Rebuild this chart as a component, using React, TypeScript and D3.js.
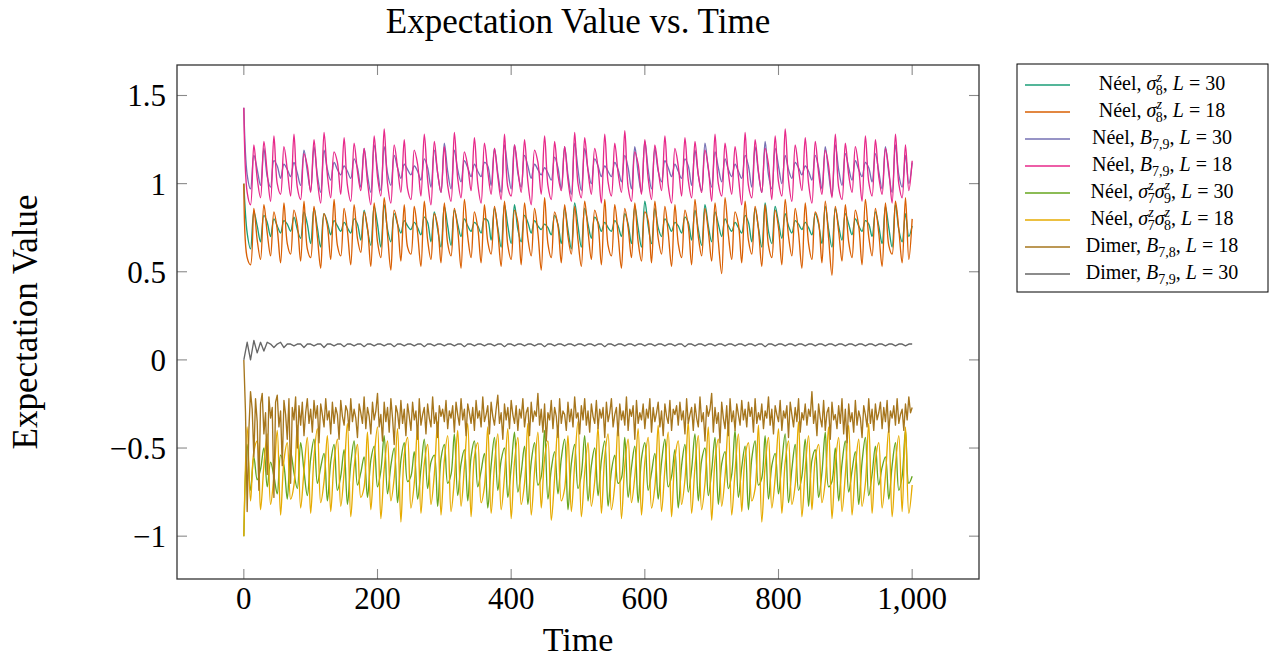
import React from "react";
import * as d3 from "d3";

// Time axis (sampled every 5 time units, 0..1000)
const TIMES: number[] = d3.range(0, 1001, 5);
// Finer time axis for the noisy dimer B_{7,8} series (every 2.5 time units)
const TIMES_FINE: number[] = d3.range(0, 1000.1, 2.5);

const X_TICKS = [0, 200, 400, 600, 800, 1000];
const X_TICK_LABELS = ["0", "200", "400", "600", "800", "1,000"];
const Y_TICKS = [-1, -0.5, 0, 0.5, 1, 1.5];
const Y_TICK_LABELS = ["\u22121", "\u22120.5", "0", "0.5", "1", "1.5"];

// Néel, sigma_8^z, L = 30
const neelSz8L30 = [
  1.00,0.72,0.63,0.84,0.76,0.67,0.82,0.78,0.70,0.80,0.76,0.72,0.79,0.77,0.73,0.81,0.74,0.69,0.84,0.77,
  0.66,0.86,0.75,0.64,0.83,0.78,0.71,0.79,0.76,0.73,0.78,0.75,0.72,0.80,0.77,0.68,0.85,0.74,0.65,0.87,
  0.77,0.64,0.88,0.74,0.67,0.83,0.77,0.72,0.79,0.76,0.74,0.78,0.75,0.71,0.81,0.78,0.67,0.84,0.74,0.64,
  0.87,0.76,0.65,0.85,0.77,0.70,0.80,0.76,0.73,0.78,0.76,0.72,0.80,0.79,0.68,0.86,0.75,0.64,0.88,0.76,
  0.66,0.88,0.74,0.67,0.82,0.78,0.72,0.79,0.76,0.74,0.77,0.75,0.71,0.82,0.77,0.66,0.86,0.74,0.63,0.89,
  0.76,0.64,0.86,0.77,0.69,0.81,0.78,0.73,0.78,0.75,0.73,0.79,0.76,0.70,0.83,0.77,0.66,0.87,0.75,0.64,
  0.90,0.76,0.66,0.86,0.75,0.70,0.80,0.77,0.73,0.78,0.76,0.72,0.81,0.78,0.68,0.85,0.74,0.65,0.88,0.76,
  0.67,0.84,0.77,0.70,0.80,0.76,0.73,0.78,0.75,0.72,0.82,0.78,0.67,0.86,0.75,0.64,0.89,0.73,0.66,0.87,
  0.78,0.69,0.83,0.76,0.72,0.79,0.77,0.74,0.78,0.75,0.71,0.83,0.77,0.66,0.87,0.74,0.64,0.86,0.76,0.68,
  0.83,0.77,0.71,0.80,0.76,0.73,0.79,0.77,0.70,0.84,0.76,0.66,0.87,0.75,0.64,0.88,0.74,0.67,0.83,0.70,
  0.76,
];

// Néel, sigma_8^z, L = 18
const neelSz8L18 = [
  1.00,0.58,0.54,0.86,0.68,0.57,0.88,0.72,0.59,0.84,0.74,0.55,0.89,0.66,0.60,0.85,0.77,0.56,0.90,0.63,
  0.58,0.87,0.70,0.52,0.83,0.76,0.57,0.91,0.65,0.59,0.86,0.73,0.54,0.88,0.69,0.61,0.84,0.75,0.53,0.89,
  0.67,0.58,0.92,0.71,0.51,0.85,0.77,0.56,0.88,0.64,0.60,0.87,0.72,0.53,0.90,0.68,0.57,0.83,0.76,0.55,
  0.89,0.66,0.59,0.86,0.74,0.52,0.91,0.70,0.58,0.84,0.75,0.55,0.88,0.67,0.60,0.87,0.73,0.53,0.90,0.65,
  0.57,0.85,0.78,0.54,0.89,0.69,0.59,0.86,0.72,0.51,0.92,0.66,0.58,0.84,0.76,0.55,0.88,0.70,0.60,0.87,
  0.68,0.53,0.90,0.73,0.57,0.85,0.77,0.54,0.91,0.65,0.59,0.88,0.71,0.52,0.86,0.75,0.58,0.89,0.67,0.56,
  0.84,0.79,0.55,0.90,0.69,0.60,0.87,0.72,0.53,0.88,0.66,0.58,0.85,0.76,0.54,0.91,0.70,0.59,0.86,0.73,
  0.56,0.89,0.67,0.49,0.92,0.71,0.57,0.84,0.77,0.55,0.90,0.68,0.60,0.87,0.74,0.53,0.88,0.65,0.58,0.85,
  0.75,0.54,0.91,0.70,0.59,0.86,0.72,0.52,0.89,0.66,0.57,0.84,0.78,0.55,0.90,0.69,0.48,0.87,0.73,0.56,
  0.88,0.67,0.58,0.85,0.76,0.54,0.91,0.70,0.59,0.86,0.72,0.53,0.89,0.65,0.60,0.90,0.74,0.55,0.92,0.57,
  0.80,
];

// Néel, B_{7,9}, L = 30
const neelB79L30 = [
  1.43,1.05,0.97,1.16,1.08,0.99,1.20,1.04,0.98,1.13,1.10,1.03,1.11,1.08,1.04,1.12,1.06,0.99,1.19,1.07,
  0.96,1.21,1.05,0.95,1.19,1.08,1.02,1.12,1.08,1.05,1.10,1.07,1.03,1.14,1.09,0.98,1.20,1.05,0.95,1.22,
  1.08,0.96,1.21,1.06,0.99,1.16,1.09,1.03,1.11,1.08,1.05,1.10,1.07,1.02,1.14,1.09,0.98,1.19,1.06,0.95,
  1.23,1.07,0.97,1.19,1.08,1.01,1.13,1.09,1.04,1.11,1.07,1.04,1.12,1.10,0.99,1.20,1.06,0.95,1.22,1.08,
  0.97,1.22,1.06,0.98,1.16,1.10,1.03,1.11,1.08,1.05,1.09,1.06,1.02,1.15,1.09,0.97,1.21,1.05,0.94,1.23,
  1.08,0.96,1.20,1.08,1.00,1.14,1.10,1.04,1.10,1.07,1.04,1.12,1.08,1.01,1.16,1.09,0.97,1.21,1.06,0.95,
  1.24,1.08,0.97,1.20,1.07,1.01,1.13,1.09,1.04,1.11,1.07,1.03,1.14,1.10,0.99,1.19,1.05,0.96,1.23,1.08,
  0.98,1.18,1.09,1.01,1.14,1.08,1.04,1.11,1.07,1.03,1.16,1.10,0.98,1.21,1.06,0.95,1.24,1.05,0.97,1.20,
  1.10,1.00,1.16,1.08,1.03,1.12,1.09,1.05,1.10,1.07,1.02,1.16,1.09,0.97,1.21,1.06,0.93,1.22,1.08,0.99,
  1.17,1.09,1.02,1.13,1.08,1.04,1.12,1.09,1.01,1.17,1.07,0.97,1.21,1.06,0.95,1.22,1.05,0.98,1.16,1.00,
  1.12,
];

// Néel, B_{7,9}, L = 18
const neelB79L18 = [
  1.43,0.95,0.88,1.22,1.03,0.92,1.24,1.06,0.90,1.27,1.00,0.94,1.21,1.08,0.93,1.28,0.98,0.91,1.17,1.10,
  0.95,1.25,1.02,0.89,1.29,1.05,0.92,1.18,1.12,0.94,1.26,0.99,0.90,1.23,1.07,0.96,1.20,1.01,0.88,1.27,
  1.04,0.93,1.31,1.00,0.89,1.22,1.09,0.95,1.25,0.97,0.91,1.19,1.11,0.93,1.28,1.02,0.88,1.24,1.06,0.95,
  1.21,0.99,0.90,1.29,1.03,0.92,1.18,1.10,0.96,1.26,1.00,0.89,1.23,1.07,0.94,1.20,1.04,0.91,1.28,0.98,
  0.93,1.22,1.08,0.95,1.25,1.01,0.88,1.19,1.12,0.94,1.27,0.99,0.91,1.24,1.05,0.96,1.21,1.02,0.90,1.29,
  1.00,0.92,1.26,1.07,0.94,1.20,1.09,0.89,1.28,1.01,0.93,1.23,1.06,0.95,1.30,0.98,0.90,1.18,1.11,0.94,
  1.25,1.03,0.91,1.22,1.08,0.96,1.27,0.99,0.89,1.20,1.10,0.93,1.26,1.02,0.92,1.24,1.05,0.95,1.19,1.09,
  0.90,1.28,1.00,0.93,1.23,1.06,0.94,1.21,1.04,0.88,1.29,0.99,0.92,1.25,1.07,0.95,1.20,1.11,0.91,1.27,
  1.01,0.93,1.31,1.02,0.90,1.22,1.08,0.96,1.26,1.00,0.89,1.24,1.06,0.94,1.19,1.10,0.92,1.28,0.98,0.91,
  1.23,1.05,0.95,1.21,1.09,0.90,1.27,1.01,0.93,1.25,1.04,0.94,1.20,1.08,0.89,1.28,1.00,0.92,1.22,0.96,
  1.13,
];

// Néel, sigma_7^z sigma_9^z, L = 30
const neelSz7Sz9L30 = [
  -1.00,-0.48,-0.74,-0.55,-0.68,-0.62,-0.50,-0.72,-0.58,-0.66,-0.76,-0.54,-0.60,-0.79,-0.52,-0.64,-0.73,-0.47,-0.63,-0.77,
  -0.56,-0.45,-0.70,-0.61,-0.53,-0.80,-0.58,-0.48,-0.74,-0.66,-0.51,-0.82,-0.59,-0.46,-0.71,-0.64,-0.55,-0.78,-0.57,-0.49,
  -0.72,-0.63,-0.43,-0.76,-0.60,-0.50,-0.81,-0.57,-0.47,-0.69,-0.66,-0.52,-0.79,-0.62,-0.45,-0.73,-0.58,-0.54,-0.83,-0.56,
  -0.48,-0.70,-0.65,-0.42,-0.77,-0.59,-0.51,-0.80,-0.55,-0.46,-0.72,-0.63,-0.53,-0.84,-0.60,-0.44,-0.74,-0.57,-0.50,-0.78,
  -0.61,-0.41,-0.75,-0.64,-0.49,-0.82,-0.58,-0.47,-0.71,-0.66,-0.40,-0.79,-0.62,-0.52,-0.76,-0.56,-0.45,-0.85,-0.59,-0.48,
  -0.73,-0.65,-0.43,-0.80,-0.60,-0.50,-0.77,-0.57,-0.46,-0.83,-0.63,-0.54,-0.70,-0.67,-0.44,-0.78,-0.61,-0.49,-0.81,-0.56,
  -0.47,-0.74,-0.64,-0.53,-0.79,-0.58,-0.45,-0.72,-0.66,-0.51,-0.84,-0.60,-0.48,-0.75,-0.62,-0.42,-0.80,-0.57,-0.50,-0.77,
  -0.63,-0.44,-0.82,-0.59,-0.52,-0.73,-0.65,-0.40,-0.78,-0.61,-0.49,-0.85,-0.56,-0.46,-0.71,-0.67,-0.43,-0.79,-0.60,-0.53,
  -0.76,-0.58,-0.42,-0.81,-0.62,-0.48,-0.74,-0.66,-0.45,-0.83,-0.57,-0.51,-0.78,-0.64,-0.41,-0.72,-0.69,-0.50,-0.80,-0.59,
  -0.46,-0.75,-0.63,-0.52,-0.82,-0.58,-0.44,-0.77,-0.65,-0.49,-0.71,-0.61,-0.55,-0.79,-0.60,-0.47,-0.74,-0.66,-0.40,-0.70,
  -0.66,
];

// Néel, sigma_7^z sigma_8^z, L = 18
const neelSz7Sz8L18 = [
  -1.00,-0.38,-0.80,-0.52,-0.46,-0.85,-0.60,-0.42,-0.82,-0.66,-0.40,-0.88,-0.57,-0.47,-0.79,-0.71,-0.37,-0.84,-0.63,-0.44,
  -0.87,-0.55,-0.39,-0.81,-0.69,-0.43,-0.86,-0.58,-0.45,-0.83,-0.64,-0.36,-0.89,-0.61,-0.48,-0.78,-0.72,-0.41,-0.85,-0.56,
  -0.38,-0.90,-0.62,-0.46,-0.80,-0.67,-0.39,-0.92,-0.54,-0.44,-0.84,-0.70,-0.37,-0.87,-0.59,-0.48,-0.82,-0.65,-0.35,-0.88,
  -0.57,-0.43,-0.86,-0.68,-0.40,-0.83,-0.61,-0.36,-0.89,-0.55,-0.47,-0.81,-0.72,-0.38,-0.87,-0.60,-0.42,-0.85,-0.66,-0.39,
  -0.90,-0.58,-0.44,-0.82,-0.70,-0.36,-0.88,-0.63,-0.41,-0.84,-0.56,-0.46,-0.91,-0.67,-0.37,-0.80,-0.73,-0.43,-0.86,-0.59,
  -0.35,-0.89,-0.64,-0.47,-0.83,-0.69,-0.38,-0.87,-0.55,-0.42,-0.85,-0.71,-0.36,-0.90,-0.60,-0.45,-0.81,-0.66,-0.39,-0.88,
  -0.58,-0.44,-0.84,-0.72,-0.37,-0.86,-0.62,-0.41,-0.89,-0.56,-0.46,-0.82,-0.68,-0.35,-0.87,-0.61,-0.43,-0.85,-0.70,-0.38,
  -0.91,-0.57,-0.45,-0.83,-0.66,-0.36,-0.88,-0.63,-0.42,-0.86,-0.55,-0.47,-0.80,-0.73,-0.37,-0.92,-0.60,-0.44,-0.84,-0.67,
  -0.39,-0.87,-0.58,-0.46,-0.82,-0.71,-0.35,-0.89,-0.62,-0.43,-0.85,-0.56,-0.48,-0.81,-0.69,-0.38,-0.90,-0.59,-0.44,-0.86,
  -0.65,-0.37,-0.88,-0.61,-0.45,-0.83,-0.70,-0.36,-0.87,-0.57,-0.47,-0.84,-0.66,-0.39,-0.89,-0.60,-0.43,-0.86,-0.38,-0.87,
  -0.71,
];

// Dimer, B_{7,8}, L = 18 (every 2.5 time units)
const dimerB78L18 = [
  0.00,-0.30,-0.86,-0.40,-0.18,-0.28,-0.55,-0.22,-0.35,-0.74,-0.25,-0.19,-0.42,-0.30,-0.65,-0.21,-0.33,-0.27,-0.78,-0.24,
  -0.20,-0.38,-0.29,-0.60,-0.23,-0.31,-0.45,-0.22,-0.70,-0.27,-0.34,-0.21,-0.50,-0.26,-0.37,-0.24,-0.43,-0.30,-0.22,-0.36,
  -0.28,-0.41,-0.23,-0.33,-0.26,-0.47,-0.25,-0.31,-0.38,-0.22,-0.34,-0.29,-0.42,-0.24,-0.36,-0.27,-0.31,-0.45,-0.23,-0.32,
  -0.37,-0.26,-0.29,-0.40,-0.22,-0.35,-0.28,-0.33,-0.44,-0.25,-0.30,-0.36,-0.21,-0.39,-0.27,-0.32,-0.42,-0.24,-0.34,-0.29,
  -0.19,-0.38,-0.31,-0.46,-0.24,-0.35,-0.27,-0.41,-0.22,-0.33,-0.48,-0.26,-0.30,-0.39,-0.23,-0.36,-0.28,-0.43,-0.25,-0.32,
  -0.40,-0.24,-0.34,-0.29,-0.45,-0.22,-0.37,-0.31,-0.27,-0.42,-0.25,-0.33,-0.38,-0.21,-0.36,-0.30,-0.44,-0.26,-0.32,-0.28,
  -0.35,-0.23,-0.39,-0.29,-0.33,-0.26,-0.41,-0.24,-0.31,-0.37,-0.22,-0.34,-0.28,-0.43,-0.25,-0.30,-0.36,-0.27,-0.40,-0.23,
  -0.33,-0.29,-0.38,-0.21,-0.35,-0.31,-0.26,-0.42,-0.24,-0.32,-0.37,-0.28,-0.20,-0.36,-0.30,-0.45,-0.25,-0.34,-0.27,-0.39,
  -0.23,-0.31,-0.36,-0.26,-0.40,-0.28,-0.33,-0.22,-0.38,-0.30,-0.27,-0.43,-0.24,-0.35,-0.29,-0.32,-0.19,-0.37,-0.28,-0.41,
  -0.25,-0.46,-0.30,-0.34,-0.23,-0.39,-0.27,-0.32,-0.44,-0.22,-0.36,-0.29,-0.31,-0.40,-0.24,-0.35,-0.28,-0.38,-0.21,-0.33,
  -0.30,-0.42,-0.26,-0.34,-0.22,-0.37,-0.29,-0.41,-0.25,-0.32,-0.36,-0.23,-0.39,-0.28,-0.33,-0.27,-0.44,-0.24,-0.35,-0.30,
  -0.22,-0.38,-0.31,-0.27,-0.43,-0.25,-0.34,-0.29,-0.37,-0.21,-0.40,-0.28,-0.32,-0.26,-0.45,-0.23,-0.36,-0.30,-0.34,-0.25,
  -0.39,-0.28,-0.33,-0.22,-0.41,-0.27,-0.35,-0.30,-0.24,-0.38,-0.29,-0.43,-0.25,-0.32,-0.36,-0.23,-0.40,-0.28,-0.31,-0.26,
  -0.37,-0.24,-0.34,-0.29,-0.42,-0.22,-0.36,-0.31,-0.27,-0.40,-0.25,-0.33,-0.38,-0.21,-0.35,-0.30,-0.46,-0.26,-0.32,-0.28,
  -0.19,-0.41,-0.27,-0.36,-0.30,-0.47,-0.24,-0.33,-0.39,-0.26,-0.43,-0.22,-0.35,-0.29,-0.40,-0.25,-0.31,-0.37,-0.23,-0.34,
  -0.28,-0.38,-0.24,-0.32,-0.27,-0.41,-0.22,-0.36,-0.30,-0.34,-0.25,-0.39,-0.29,-0.33,-0.21,-0.37,-0.28,-0.42,-0.26,-0.31,
  -0.35,-0.23,-0.40,-0.29,-0.33,-0.26,-0.44,-0.24,-0.31,-0.38,-0.27,-0.35,-0.22,-0.41,-0.30,-0.34,-0.25,-0.37,-0.28,-0.32,
  -0.18,-0.36,-0.29,-0.43,-0.25,-0.33,-0.38,-0.23,-0.40,-0.30,-0.27,-0.45,-0.24,-0.34,-0.31,-0.39,-0.26,-0.36,-0.22,-0.42,
  -0.28,-0.47,-0.25,-0.35,-0.30,-0.41,-0.23,-0.37,-0.29,-0.33,-0.44,-0.26,-0.31,-0.38,-0.22,-0.36,-0.28,-0.40,-0.25,-0.34,
  -0.30,-0.24,-0.39,-0.27,-0.35,-0.23,-0.41,-0.29,-0.33,-0.26,-0.37,-0.22,-0.36,-0.31,-0.28,-0.40,-0.25,-0.34,-0.21,-0.30,
  -0.27,
];

// Dimer, B_{7,9}, L = 30
const dimerB79L30 = [
  0.00,0.10,0.00,0.11,0.04,0.10,0.05,0.10,0.09,0.07,0.09,0.10,0.07,0.09,0.09,0.08,0.09,0.09,0.07,0.09,
  0.09,0.08,0.09,0.09,0.07,0.09,0.09,0.08,0.09,0.09,0.075,0.09,0.09,0.08,0.09,0.09,0.075,0.09,0.09,0.08,
  0.09,0.09,0.08,0.09,0.09,0.075,0.09,0.09,0.08,0.09,0.09,0.08,0.09,0.09,0.075,0.09,0.09,0.08,0.09,0.09,
  0.08,0.09,0.09,0.08,0.09,0.09,0.075,0.09,0.09,0.08,0.09,0.09,0.08,0.09,0.09,0.08,0.09,0.09,0.075,0.09,
  0.09,0.08,0.09,0.09,0.08,0.09,0.09,0.08,0.09,0.09,0.075,0.09,0.09,0.08,0.09,0.09,0.08,0.09,0.09,0.08,
  0.09,0.09,0.08,0.09,0.09,0.08,0.09,0.09,0.075,0.09,0.09,0.08,0.09,0.09,0.08,0.09,0.09,0.08,0.09,0.09,
  0.08,0.09,0.09,0.08,0.09,0.09,0.08,0.09,0.09,0.08,0.09,0.09,0.075,0.09,0.09,0.08,0.09,0.09,0.08,0.09,
  0.09,0.08,0.09,0.09,0.08,0.09,0.09,0.08,0.09,0.09,0.08,0.09,0.09,0.08,0.09,0.09,0.075,0.09,0.09,0.08,
  0.09,0.09,0.08,0.09,0.09,0.08,0.09,0.09,0.08,0.09,0.09,0.08,0.09,0.09,0.08,0.09,0.09,0.08,0.09,0.09,
  0.08,0.09,0.09,0.08,0.09,0.09,0.08,0.09,0.09,0.08,0.09,0.09,0.08,0.09,0.09,0.08,0.09,0.09,0.08,0.09,
  0.09,
];

type Part = string | { m: string; sup?: string; sub?: string };

const SERIES_COLORS = ["#1b9e77", "#d95f02", "#7570b3", "#e7298a", "#66a61e", "#e6ab02", "#a6761d", "#666666"];
const SERIES_VALUES = [neelSz8L30, neelSz8L18, neelB79L30, neelB79L18, neelSz7Sz9L30, neelSz7Sz8L18, dimerB78L18, dimerB79L30];
const SERIES_TIMES = [TIMES, TIMES, TIMES, TIMES, TIMES, TIMES, TIMES_FINE, TIMES];
const SERIES_SMOOTH = [true, true, true, true, true, true, false, false];
const SERIES_LABELS: Part[][] = [
  ["Néel, ", { m: "σ", sup: "z", sub: "8" }, ", ", { m: "L" }, " = 30"],
  ["Néel, ", { m: "σ", sup: "z", sub: "8" }, ", ", { m: "L" }, " = 18"],
  ["Néel, ", { m: "B", sub: "7,9" }, ", ", { m: "L" }, " = 30"],
  ["Néel, ", { m: "B", sub: "7,9" }, ", ", { m: "L" }, " = 18"],
  ["Néel, ", { m: "σ", sup: "z", sub: "7" }, { m: "σ", sup: "z", sub: "9" }, ", ", { m: "L" }, " = 30"],
  ["Néel, ", { m: "σ", sup: "z", sub: "7" }, { m: "σ", sup: "z", sub: "8" }, ", ", { m: "L" }, " = 18"],
  ["Dimer, ", { m: "B", sub: "7,8" }, ", ", { m: "L" }, " = 18"],
  ["Dimer, ", { m: "B", sub: "7,9" }, ", ", { m: "L" }, " = 30"],
];

function renderParts(parts: Part[]) {
  const out: React.ReactNode[] = [];
  let pending = 0;
  let k = 0;
  for (const p of parts) {
    if (typeof p === "string") {
      out.push(<tspan key={k++} dy={pending || undefined}>{p}</tspan>);
      pending = 0;
    } else {
      out.push(<tspan key={k++} fontStyle="italic" dy={pending || undefined}>{p.m}</tspan>);
      pending = 0;
      if (p.sup && p.sub) {
        out.push(<tspan key={k++} fontSize={14} fontStyle="italic" dy={-8}>{p.sup}</tspan>);
        out.push(<tspan key={k++} fontSize={14} dx={-6} dy={13}>{p.sub}</tspan>);
        pending = -5;
      } else if (p.sub) {
        out.push(<tspan key={k++} fontSize={14} dy={5}>{p.sub}</tspan>);
        pending = -5;
      }
    }
  }
  return out;
}

export default function App() {
  const W = 1269, H = 661;
  const left = 177, right = 979, top = 65, bottom = 579;
  const x = d3.scaleLinear().domain([-100, 1100]).range([left, right]);
  const y = d3.scaleLinear().domain([-1.243, 1.673]).range([bottom, top]);
  const tickLen = 10;
  const legX = 1017, legY = 64, legW = 251, legH = 228, rowH = 27;

  const pathFor = (i: number) => {
    const ts = SERIES_TIMES[i];
    const gen = d3.line<number>().x((_, j) => x(ts[j])).y((d) => y(d));
    if (SERIES_SMOOTH[i]) gen.curve(d3.curveCatmullRom.alpha(0.5));
    return gen(SERIES_VALUES[i]) || "";
  };

  return (
    <svg width={W} height={H} style={{ position: "absolute", left: 0, top: 0, background: "#fff" }}
      fontFamily="'Liberation Serif', 'Times New Roman', serif">
      <rect x={0} y={0} width={W} height={H} fill="#fff" />
      {/* series */}
      <g fill="none" strokeWidth={1.35} strokeLinejoin="round">
        {SERIES_VALUES.map((_, i) => (
          <path key={i} d={pathFor(i)} stroke={SERIES_COLORS[i]} />
        ))}
      </g>
      {/* ticks */}
      <g stroke="#8a8a8a" strokeWidth={1.1}>
        {X_TICKS.map((t) => (
          <g key={"xt" + t}>
            <line x1={x(t)} x2={x(t)} y1={bottom} y2={bottom - tickLen} />
            <line x1={x(t)} x2={x(t)} y1={top} y2={top + tickLen} />
          </g>
        ))}
        {Y_TICKS.map((t) => (
          <g key={"yt" + t}>
            <line x1={left} x2={left + tickLen} y1={y(t)} y2={y(t)} />
            <line x1={right} x2={right - tickLen} y1={y(t)} y2={y(t)} />
          </g>
        ))}
      </g>
      <rect x={left} y={top} width={right - left} height={bottom - top} fill="none" stroke="#333" strokeWidth={1.3} />
      {/* tick labels */}
      <g fontSize={31} fill="#000">
        {X_TICKS.map((t, i) => (
          <text key={"xl" + t} x={x(t)} y={609} textAnchor="middle">{X_TICK_LABELS[i]}</text>
        ))}
        {Y_TICKS.map((t, i) => (
          <text key={"yl" + t} x={166} y={y(t) + 11} textAnchor="end">{Y_TICK_LABELS[i]}</text>
        ))}
      </g>
      {/* titles */}
      <text x={(left + right) / 2} y={33} textAnchor="middle" fontSize={35}>Expectation Value vs. Time</text>
      <text x={(left + right) / 2} y={651} textAnchor="middle" fontSize={34}>Time</text>
      <text transform={`translate(37, ${(top + bottom) / 2}) rotate(-90)`} textAnchor="middle" fontSize={35}>Expectation Value</text>
      {/* legend */}
      <rect x={legX} y={legY} width={legW} height={legH} fill="#fff" stroke="#000" strokeWidth={1} />
      {SERIES_LABELS.map((lab, i) => {
        const cy = 85 + i * rowH;
        return (
          <g key={"lg" + i}>
            <line x1={1025} x2={1070} y1={cy} y2={cy} stroke={SERIES_COLORS[i]} strokeWidth={1.4} />
            <text x={1162} y={cy + 5} textAnchor="middle" fontSize={20}>{renderParts(lab)}</text>
          </g>
        );
      })}
    </svg>
  );
}
